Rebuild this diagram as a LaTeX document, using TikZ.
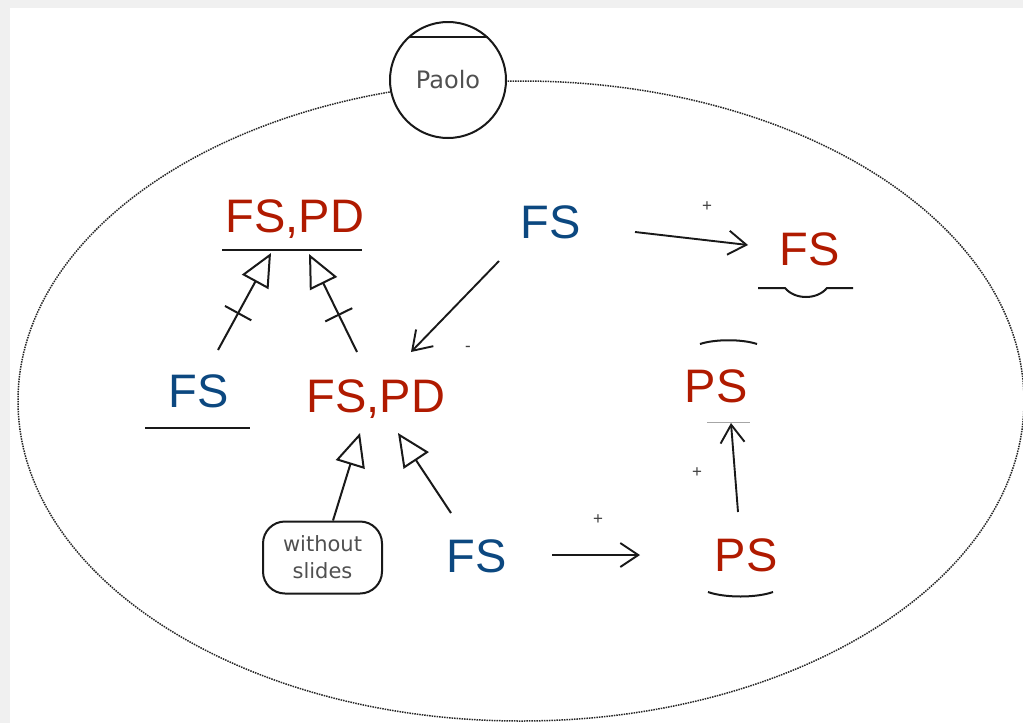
\documentclass[tikz,border=0pt]{standalone}
\usepackage{fontspec}
\setmainfont{Liberation Sans}
\newfontfamily\notefont{DejaVu Sans}
\usetikzlibrary{arrows.meta,calc}
\definecolor{fsred}{RGB}{176,26,0}
\definecolor{fsblue}{RGB}{12,72,128}
\definecolor{notegray}{RGB}{80,80,80}
\begin{document}
\begin{tikzpicture}[x=1pt,y=-1pt,
  big/.style={font=\fontsize{47}{50}\selectfont, inner sep=0pt, anchor=base},
  redlbl/.style={big, text=fsred},
  bluelbl/.style={big, text=fsblue},
  gen/.style={draw=black!90, line width=2pt, -{Triangle[open, length=33pt, width=30pt]}},
  assoc/.style={draw=black!90, line width=1.9pt, -{Straight Barb[length=18pt, width=24pt]}},
  deco/.style={draw=black!90, line width=2pt},
  tickmark/.style={draw=black!90, line width=2pt},
  sign/.style={font=\fontsize{17}{17}\selectfont, text=black!75, inner sep=0pt},
]
\useasboundingbox (0,0) rectangle (1023,723);
% frame strips
\fill[black!6] (0,0) rectangle (1023,8);
\fill[black!6] (0,0) rectangle (10,723);

% boundary of the package
\draw[densely dotted, line width=1.5pt, black!85] (521,401) ellipse [x radius=503, y radius=320];

% owner
\node[circle, draw=black!90, line width=2pt, fill=white, minimum size=116pt, inner sep=0pt,
      font=\notefont\fontsize{24}{24}\selectfont, text=notegray] (paolo) at (448,80) {Paolo};
\draw[deco] ([shift={(-38,-43)}]paolo.center) -- ([shift={(40,-43)}]paolo.center);

% labels
\node[redlbl]  (fspdA) at (295,232) {FS,PD};
\node[bluelbl] (fsT)   at (551,238) {FS};
\node[redlbl]  (fsR)   at (810,265) {FS};
\node[bluelbl] (fsL)   at (199,407) {FS};
\node[redlbl]  (fspdB) at (376,412) {FS,PD};
\node[redlbl]  (psT)   at (716,402) {PS};
\node[bluelbl] (fsB)   at (477,572) {FS};
\node[redlbl]  (psB)   at (746,571) {PS};
\node[draw=black!90, rounded corners=22pt, minimum width=119pt, minimum height=72pt,
      line width=2pt, align=center, inner sep=0pt,
      font=\notefont\fontsize{21}{27}\selectfont, text=notegray] (wos) at (322.5,557.5) {without\\slides};

% underlines and marks around labels
\draw[deco] ([shift={(-73,18)}]fspdA.base) -- ([shift={(67,18)}]fspdA.base);
\draw[deco] ([shift={(-54,21)}]fsL.base) -- ([shift={(51,21)}]fsL.base);
\draw[deco] ([shift={(-52,23)}]fsR.base) -- ([shift={(-25,23)}]fsR.base)
  .. controls ([shift={(-15,35)}]fsR.base) and ([shift={(7,35)}]fsR.base) .. ([shift={(17,23)}]fsR.base)
  -- ([shift={(43,23)}]fsR.base);
\draw[deco] ([shift={(-16,-58)}]psT.base)
  .. controls ([shift={(-1,-63)}]psT.base) and ([shift={(26,-63)}]psT.base) .. ([shift={(41,-58)}]psT.base);
\draw[black!35, line width=0.8pt] ([shift={(-9,20)}]psT.base) -- ([shift={(34,20)}]psT.base);
\draw[deco] ([shift={(-38,21)}]psB.base)
  .. controls ([shift={(-21,27)}]psB.base) and ([shift={(10,27)}]psB.base) .. ([shift={(27,21)}]psB.base);

% generalisations with crossings
\draw[gen] ([shift={(19,-57)}]fsL.base) -- coordinate[pos=0.38] (tA)
  ([shift={(-24,21)}]fspdA.base) coordinate (tAend);
\draw[tickmark] ($(tA)!15pt!90:(tAend)$) -- ($(tA)!15pt!-90:(tAend)$);
\draw[gen] ([shift={(-19,-60)}]fspdB.base) -- coordinate[pos=0.38] (tB)
  ([shift={(14,22)}]fspdA.base) coordinate (tBend);
\draw[tickmark] ($(tB)!15pt!90:(tBend)$) -- ($(tB)!15pt!-90:(tBend)$);

% plain generalisations
\draw[gen] ([shift={(10.5,0)}]wos.north) -- ([shift={(-16,21)}]fspdB.base);
\draw[gen] ([shift={(-26,-59)}]fsB.base) -- ([shift={(22,21)}]fspdB.base);

% associations
\draw[assoc] ([shift={(-52,23)}]fsT.base) -- ([shift={(35,-60)}]fspdB.base);
\draw[assoc] ([shift={(84,-6)}]fsT.base) -- ([shift={(-62,-20)}]fsR.base);
\draw[assoc] ([shift={(75,-17)}]fsB.base) -- ([shift={(-106,-16)}]psB.base);
\draw[assoc] ([shift={(-8,-59)}]psB.base) -- ([shift={(15,21)}]psT.base);

% multiplicity signs
\node[sign] (plusD) at (707,207) {+};
\node[sign] (plusG) at (598,520) {+};
\node[sign] (plusH) at (697,473) {+};
\node[sign] (minusC) at (468,349) {-};
\end{tikzpicture}
\end{document}
